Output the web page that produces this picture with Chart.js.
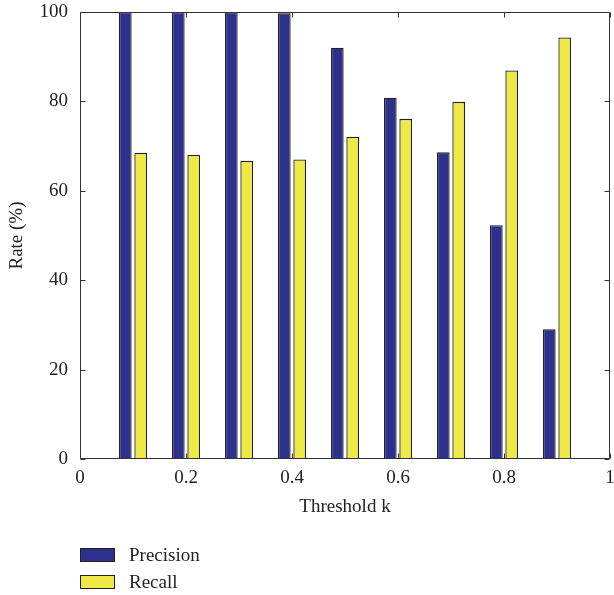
<!DOCTYPE html>
<html>
<head>
<meta charset="utf-8">
<script src="https://cdn.jsdelivr.net/npm/chart.js@4.4.1/dist/chart.umd.min.js"></script>
<style>
html,body{margin:0;padding:0;overflow:hidden;background:#fff;width:614px;height:595px;}
#wrap{position:relative;width:620px;height:595px;}
#legend{position:absolute;left:80px;top:541px;font-family:"Liberation Serif",serif;font-size:19px;color:#222;}
.item{display:flex;align-items:center;height:27px;}
.box{width:33px;height:12px;border:1px solid #222;margin-right:14px;}
</style>
</head>
<body>
<div id="wrap">
<canvas id="c" width="620" height="595"></canvas>
<div id="legend"></div>
</div>
<script>
// ---- data ----
const thresholds = [0.1, 0.2, 0.3, 0.4, 0.5, 0.6, 0.7, 0.8, 0.9];
const precision  = [100, 100, 100, 99.7, 92.0, 80.8, 68.6, 52.3, 29.0];
const recall     = [68.5, 68.0, 66.7, 67.0, 72.1, 76.1, 79.9, 86.9, 94.3];
const xTicks = [0, 0.2, 0.4, 0.6, 0.8, 1];
const yTicks = [0, 20, 40, 60, 80, 100];
const seriesNames = ['Precision', 'Recall'];

// ---- style ----
const colors = ['#2d308c', '#efe946'];
const edge = '#222';
const textColor = '#222';
const font = {family: '"Liberation Serif", serif', size: 19};

const datasets = [precision, recall].map((vals, i) => ({
  label: seriesNames[i],
  data: thresholds.map((t, j) => ({x: t, y: vals[j]})),
  backgroundColor: colors[i],
  borderColor: edge,
  borderWidth: 1.3,
  categoryPercentage: 0.582,
  barPercentage: 0.825
}));

const frame = {
  id: 'frame',
  afterDatasetsDraw(chart) {
    const {ctx, chartArea: a, scales: {x, y}} = chart;
    const L = Math.round(a.left) + 0.5, R = Math.round(a.right) - 0.5;
    const T = Math.round(a.top) + 0.5, B = Math.round(a.bottom) - 0.5;
    ctx.save();
    ctx.strokeStyle = '#333';
    ctx.lineWidth = 1;
    ctx.beginPath();
    ctx.rect(L, T, R - L, B - T);
    const tl = 5;
    x.ticks.forEach(t => {
      const p = Math.round(x.getPixelForValue(t.value)) + 0.5;
      ctx.moveTo(p, B); ctx.lineTo(p, B - tl);
      ctx.moveTo(p, T); ctx.lineTo(p, T + tl);
    });
    y.ticks.forEach(t => {
      const p = Math.round(y.getPixelForValue(t.value)) + 0.5;
      ctx.moveTo(L, p); ctx.lineTo(L + tl, p);
      ctx.moveTo(R, p); ctx.lineTo(R - tl, p);
    });
    ctx.stroke();
    ctx.restore();
  }
};

const chart = new Chart(document.getElementById('c'), {
  type: 'bar',
  data: {datasets},
  options: {
    responsive: false,
    animation: false,
    devicePixelRatio: 1,
    layout: {padding: {top: 12, right: 10, left: 0, bottom: 0}},
    plugins: {legend: {display: false}, tooltip: {enabled: false}},
    scales: {
      x: {
        type: 'linear', min: 0, max: 1, offset: false,
        grid: {display: false, drawTicks: false, offset: false},
        border: {display: false},
        afterBuildTicks: s => { s.ticks = xTicks.map(v => ({value: v})); },
        ticks: {padding: 8, color: textColor, font, maxRotation: 0, autoSkip: false,
                callback: v => String(v)},
        title: {display: true, text: 'Threshold k', color: textColor, font,
                padding: {top: 0, bottom: 77}},
        afterFit: s => { s.height = 136; s.paddingLeft = 0; s.paddingRight = 0; }
      },
      y: {
        min: 0, max: 100,
        grid: {display: false, drawTicks: false},
        border: {display: false},
        afterBuildTicks: s => { s.ticks = yTicks.map(v => ({value: v})); },
        ticks: {padding: 12, color: textColor, font, callback: v => String(v)},
        title: {display: true, text: 'Rate (%)', color: textColor, font,
                padding: {top: 6, bottom: 0}},
        afterFit: s => { s.width = 80; s.paddingTop = 0; s.paddingBottom = 0; }
      }
    }
  },
  plugins: [frame]
});

// legend built from the chart's datasets
const lg = document.getElementById('legend');
chart.data.datasets.forEach(ds => {
  const row = document.createElement('div');
  row.className = 'item';
  const box = document.createElement('span');
  box.className = 'box';
  box.style.background = ds.backgroundColor;
  const txt = document.createElement('span');
  txt.textContent = ds.label;
  row.appendChild(box); row.appendChild(txt);
  lg.appendChild(row);
});
</script>
</body>
</html>
